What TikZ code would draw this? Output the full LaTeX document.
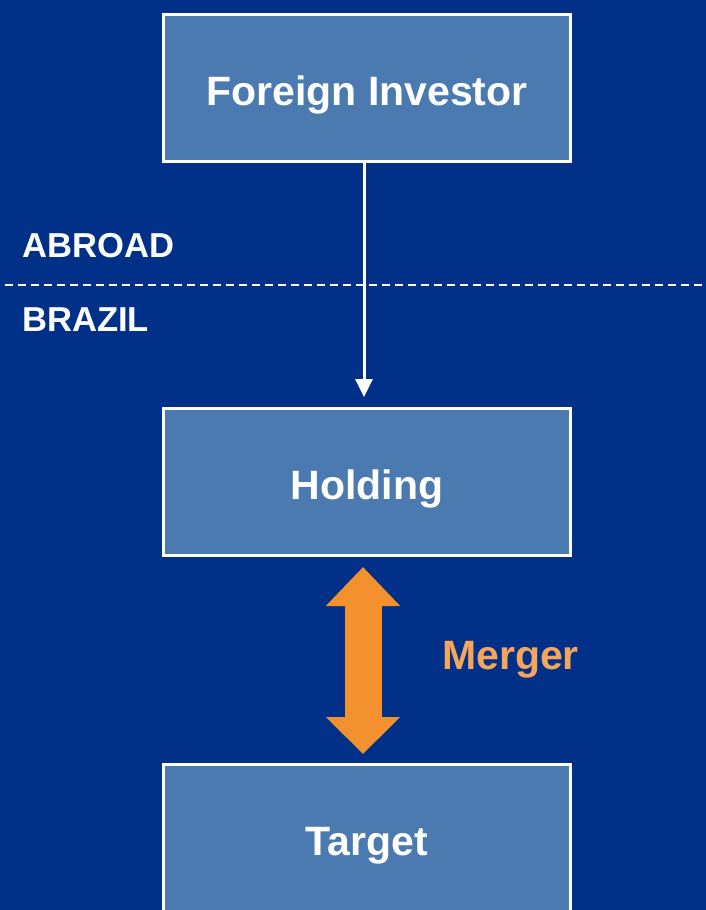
\documentclass[tikz,border=0pt]{standalone}
\usepackage{fontspec}
\setmainfont{Liberation Sans}
\usetikzlibrary{arrows.meta}
\definecolor{navy}{HTML}{003087}
\definecolor{boxblue}{HTML}{4A7AB0}
\definecolor{mergeorange}{HTML}{F4912F}
\definecolor{mergetext}{HTML}{F5A55C}
\tikzset{
  entity/.style={draw=white, line width=3pt, fill=boxblue, minimum width=407pt,
    minimum height=147pt, inner sep=0pt, text=white, text height=34pt, text depth=0pt,
    font=\bfseries\fontsize{41}{49}\selectfont},
  region/.style={anchor=base west, inner sep=0pt, text=white,
    font=\bfseries\fontsize{34.6}{41}\selectfont},
  border/.style={draw=white, line width=2pt, dash pattern=on 8pt off 5pt},
  flow/.style={draw=white, line width=3pt, -{Triangle[length=18pt,width=17pt]}},
  merge/.style={draw=mergeorange, line width=37pt,
    {Triangle[length=39pt,width=72pt]}-{Triangle[length=37pt,width=72pt]}}
}
\begin{document}
\begin{tikzpicture}[x=1pt,y=-1pt]
  \useasboundingbox (0,0) rectangle (706,910);
  \clip (0,0) rectangle (706,910);
  \fill[navy] (0,0) rectangle (706,910);

  % entities
  \node[entity] (investor) at (367,88) {Foreign Investor};
  \node[entity] (holding) at (367,482) {Holding};
  \node[entity] (target) at (367,838) {Target};

  % jurisdiction boundary
  \coordinate (bl) at (5,285);
  \coordinate (br) at (706,285);
  \draw[border] (bl) -- (br);
  \node[region] (abroad) at (22,257) {ABROAD};
  \node[region] (brazil) at (22,331) {BRAZIL};

  % investment flow
  \draw[flow, shorten >=10pt] ([xshift=-3pt]investor.south) -- ([xshift=-3pt]holding.north);

  % merger
  \draw[merge, shorten <=10pt, shorten >=9pt] ([xshift=-4pt]holding.south) -- ([xshift=-4pt]target.north);
  \node[anchor=base west, inner sep=0pt, text=mergetext,
    font=\bfseries\fontsize{41}{49}\selectfont] (merger) at (442,669) {Merger};
\end{tikzpicture}
\end{document}
